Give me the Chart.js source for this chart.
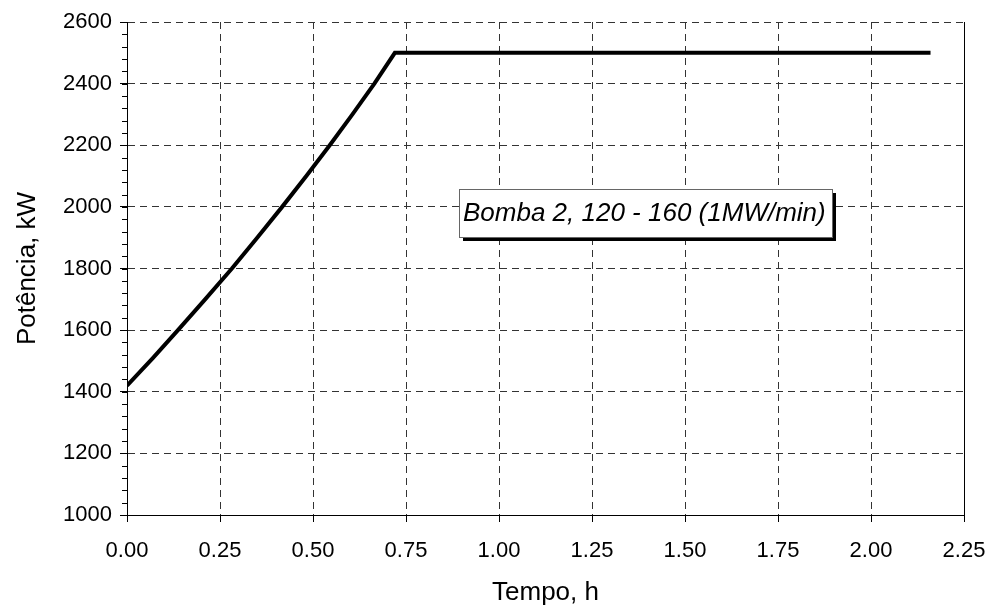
<!DOCTYPE html>
<html lang="pt">
  <head>
    <meta charset="UTF-8" />
    <title>Bomba 2 - Potência</title>
    <script src="https://cdn.jsdelivr.net/npm/chart.js"></script>
    <style>
      body { margin: 0; background: #fff; }
    </style>
  </head>
  <body>
    <canvas id="potChart" width="990" height="609"></canvas>

    <script>
      // === Dados: potência da bomba 2 ao longo do tempo ===
      const tempo = [0, 0.07, 0.137, 0.21, 0.282, 0.35, 0.417, 0.482, 0.545, 0.606, 0.665, 0.72, 2.16];
      const potencia = [1420, 1510, 1600, 1700, 1800, 1900, 2000, 2100, 2200, 2300, 2400, 2500, 2500];
      const rotulo = "Bomba 2, 120 - 160 (1MW/min)";

      const pontos = tempo.map((t, i) => ({ x: t, y: potencia[i] }));
      const fonte = "'Liberation Sans', Arial, sans-serif";

      // tracinhos menores no eixo y, moldura direita e caixa de texto
      const extras = {
        id: "extras",
        afterDraw(chart) {
          const ctx = chart.ctx;
          const xs = chart.scales.x;
          const ys = chart.scales.y;
          const area = chart.chartArea;
          ctx.save();
          ctx.strokeStyle = "#000";
          ctx.lineWidth = 1;
          ctx.beginPath();
          for (let v = 1000; v <= 2600; v += 40) {
            const y = Math.round(ys.getPixelForValue(v)) + 0.5;
            ctx.moveTo(area.left - 5, y);
            ctx.lineTo(area.left, y);
          }
          const xr = Math.round(area.right) + 0.5;
          ctx.moveTo(xr, area.top);
          ctx.lineTo(xr, area.bottom);
          ctx.stroke();

          // caixa com sombra
          ctx.font = "italic 26px " + fonte;
          const bx = Math.round(xs.getPixelForValue(0.892));
          const by = Math.round(ys.getPixelForValue(2058));
          const bw = Math.ceil(ctx.measureText(rotulo).width) + 10;
          const bh = 48;
          ctx.fillStyle = "#000";
          ctx.fillRect(bx + 4, by + 4, bw, bh);
          ctx.fillStyle = "#fff";
          ctx.fillRect(bx, by, bw, bh);
          ctx.strokeStyle = "#666";
          ctx.strokeRect(bx + 0.5, by + 0.5, bw, bh);
          ctx.fillStyle = "#000";
          ctx.textBaseline = "middle";
          ctx.fillText(rotulo, bx + 4, by + bh / 2 + 1);
          ctx.restore();
        },
      };

      new Chart(document.getElementById("potChart"), {
        type: "scatter",
        data: {
          datasets: [
            {
              data: pontos,
              showLine: true,
              borderColor: "#000",
              borderWidth: 4,
              pointRadius: 0,
              tension: 0,
            },
          ],
        },
        options: {
          responsive: false,
          animation: false,
          layout: { padding: { top: 22, right: 26, left: 0, bottom: 0 } },
          plugins: { legend: { display: false }, tooltip: { enabled: false } },
          scales: {
            x: {
              type: "linear",
              min: 0,
              max: 2.25,
              afterFit: (s) => {
                s.height = 94;
                s.paddingLeft = 0;
                s.paddingRight = 0;
              },
              ticks: {
                stepSize: 0.25,
                color: "#000",
                font: { family: fonte, size: 22 },
                padding: 16,
                callback: (v) => v.toFixed(2),
              },
              grid: { color: "#333", tickColor: "#000", tickLength: 7, lineWidth: 1 },
              border: { color: "#000", width: 1, dash: [7, 5] },
              title: {
                display: true,
                text: "Tempo, h",
                color: "#000",
                font: { family: fonte, size: 26 },
                padding: { top: 0, bottom: 1 },
              },
            },
            y: {
              min: 1000,
              max: 2600,
              afterFit: (s) => { s.width = 127; },
              ticks: {
                stepSize: 200,
                color: "#000",
                font: { family: fonte, size: 22 },
                padding: 8,
                callback: (v) => String(v),
              },
              grid: { color: "#333", tickColor: "#000", tickLength: 7, lineWidth: 1 },
              border: { color: "#000", width: 1, dash: [7, 5] },
              title: {
                display: true,
                text: "Potência, kW",
                color: "#000",
                font: { family: fonte, size: 26 },
                padding: { top: 12, bottom: 0 },
              },
            },
          },
        },
        plugins: [extras],
      });
    </script>
  </body>
</html>
